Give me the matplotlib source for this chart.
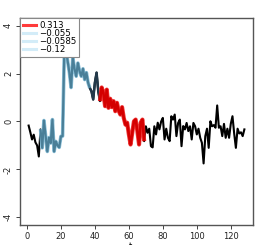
import numpy as np
import matplotlib
matplotlib.use("Agg")
import matplotlib.pyplot as plt
from matplotlib.lines import Line2D

# ---- data ----
seg_base = [-0.17, -0.45, -0.75, -0.55, -0.87, -1.0, -1.46, -0.33, -1.1, 0.04,
            -0.6, -1.25, -0.67, -0.9, 0.08, -1.25, -0.83, -1.0, -1.08, -0.62,
            -0.61, 2.9]
seg_jump = [3.0, 2.5, 2.04, 1.42, 2.67, 2.2, 1.89, 2.44, 2.1, 1.89,
            2.2, 1.75, 2.04, 1.62, 1.4, 1.26, 0.92, 1.62, 2.04, 1.26, 0.85]
seg_red = [1.42, 1.2, 0.64, 1.33, 0.57, 0.95, 0.6, 0.85, 0.43, 0.78,
           0.45, 0.29, 0.6, 0.15, -0.13, -0.05, -0.54, -0.96, -0.47, 0.01,
           0.08, -0.4, -0.96, -0.04, 0.08, -0.82]
seg_tail = [-0.2, -0.47, -0.3, -1.03, -1.08, -0.2, -0.54, -0.05, -0.33, 0.0,
            0.15, -0.75, -0.3, -0.68, -0.82, 0.22, 0.08, 0.29, -0.61, -0.06,
            0.08, -1.03, -0.19, -0.33, -0.06, -0.4, -0.2, -0.75, -0.06, -0.2,
            -0.54, -0.3, -0.68, -0.89, -1.75, -0.61, -0.3, -1.1, 0.01, -0.2,
            -0.15, -0.26, 0.67, -0.26, -0.2, -0.61, -0.1, -0.68, -0.3, -0.68,
            -0.1, 0.22, -0.5, -1.1, -0.3, -0.5, -0.45, -0.61, -0.33]
values = np.array(seg_base + seg_jump + seg_red + seg_tail)
t = np.arange(1, len(values) + 1)

# highlighted ranges (start t, end t)
blue_range = (8, 37)
dark_range = (37, 43)
red_range = (43, 69)

legend_labels = ["0.313", "\u22120.055", "\u22120.0585", "\u22120.12"]
xticks = [0, 20, 40, 60, 80, 100, 120]
yticks = [-4, -2, 0, 2, 4]

# ---- figure ----
fig = plt.figure(figsize=(2.73, 2.45), dpi=100)
ax = fig.add_axes([20/273, 20/245, 233/273, 207/245])

ax.plot(t, values, color="black", lw=1.5, zorder=2)

def seg(rng, color, lw, alpha=1.0):
    m = (t >= rng[0]) & (t <= rng[1])
    ax.plot(t[m], values[m], color=color, lw=lw, alpha=alpha, zorder=3,
            solid_capstyle="butt")

seg(blue_range, "#8fc3db", 2.6)
seg(blue_range, "#4a7f98", 1.6)
seg(dark_range, "#23394a", 1.8)
seg(red_range, "#ee2222", 3.0, 0.9)
seg(red_range, "#d40000", 1.8)

ax.set_xlim(-4.08, 133.08)
ax.set_ylim(-4.32, 4.32)
ax.set_xticks(xticks)
ax.set_yticks(yticks)
ax.set_xticklabels([str(v) for v in xticks], fontsize=6)
ax.set_yticklabels([str(v) for v in yticks], fontsize=6, rotation=90, va="center")
ax.tick_params(length=3, width=0.6, pad=2, colors="#222222")
for s in ax.spines.values():
    s.set_color("#555555")
    s.set_linewidth(1.0)

handles = [Line2D([], [], color="#ff3b3b", lw=2.2),
           Line2D([], [], color="#d3ecf8", lw=2.2),
           Line2D([], [], color="#d3ecf8", lw=2.2),
           Line2D([], [], color="#d3ecf8", lw=2.2)]
leg = ax.legend(handles, legend_labels, loc="upper left", fontsize=6.2,
                frameon=True, fancybox=False, borderaxespad=0.0,
                handlelength=1.5, handletextpad=0.4, labelspacing=-0.1,
                borderpad=0.3)
leg.get_frame().set_edgecolor("#888888")
leg.get_frame().set_linewidth(0.8)
leg.get_frame().set_alpha(1.0)
leg.set_zorder(5)

fig.text(0.476, -0.025, "t", fontsize=6, ha="center", va="bottom")

fig.savefig("out.png", dpi=100)
